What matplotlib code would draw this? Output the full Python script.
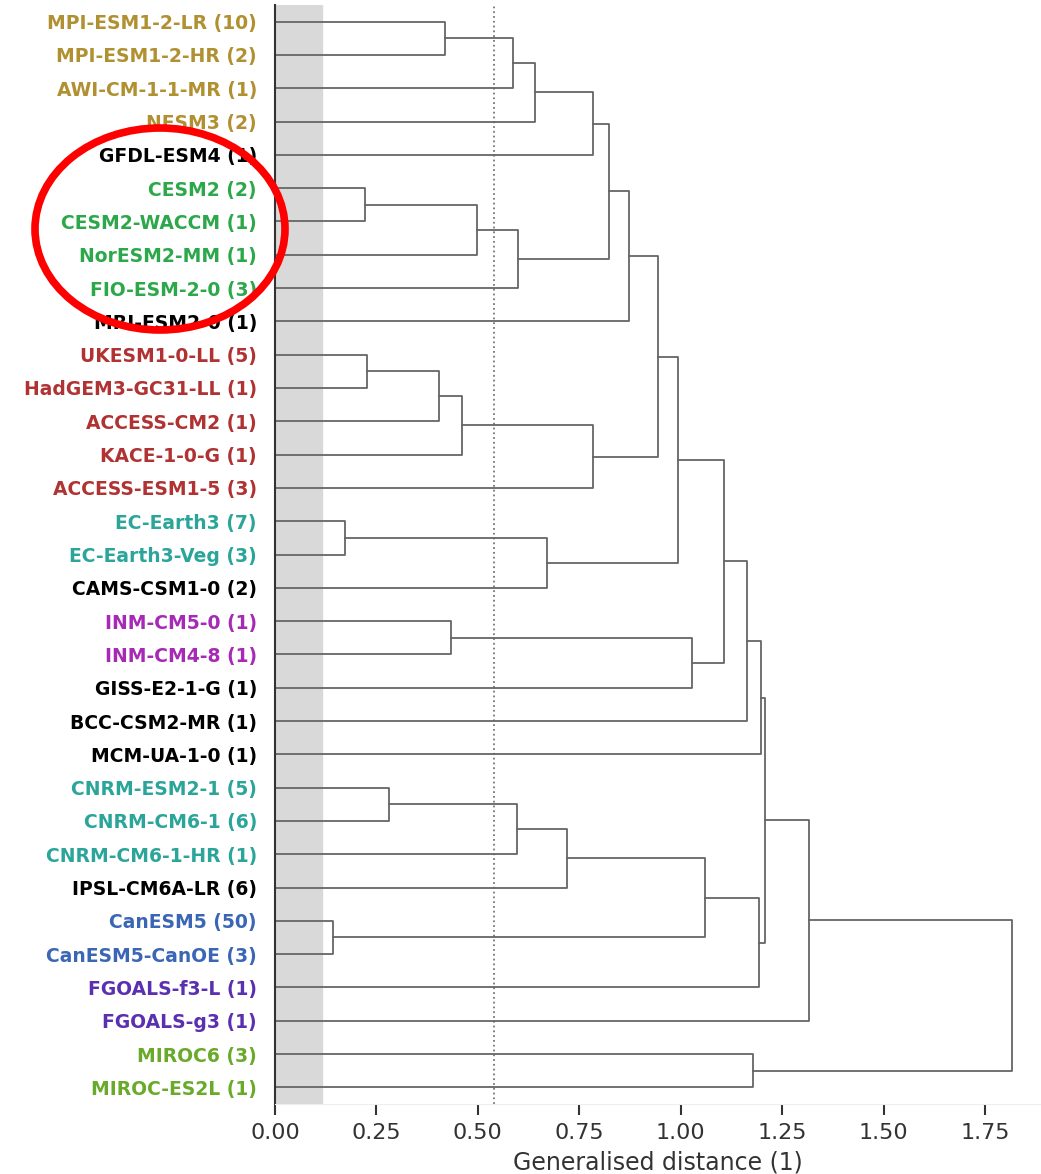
import matplotlib.pyplot as plt
from matplotlib.patches import Ellipse

# Modelli (foglie del dendrogramma, dall'alto in basso)
models = [
    "MPI-ESM1-2-LR (10)", "MPI-ESM1-2-HR (2)", "AWI-CM-1-1-MR (1)", "NESM3 (2)",
    "GFDL-ESM4 (1)", "CESM2 (2)", "CESM2-WACCM (1)", "NorESM2-MM (1)",
    "FIO-ESM-2-0 (3)", "MRI-ESM2-0 (1)", "UKESM1-0-LL (5)", "HadGEM3-GC31-LL (1)",
    "ACCESS-CM2 (1)", "KACE-1-0-G (1)", "ACCESS-ESM1-5 (3)", "EC-Earth3 (7)",
    "EC-Earth3-Veg (3)", "CAMS-CSM1-0 (2)", "INM-CM5-0 (1)", "INM-CM4-8 (1)",
    "GISS-E2-1-G (1)", "BCC-CSM2-MR (1)", "MCM-UA-1-0 (1)", "CNRM-ESM2-1 (5)",
    "CNRM-CM6-1 (6)", "CNRM-CM6-1-HR (1)", "IPSL-CM6A-LR (6)", "CanESM5 (50)",
    "CanESM5-CanOE (3)", "FGOALS-f3-L (1)", "FGOALS-g3 (1)", "MIROC6 (3)",
    "MIROC-ES2L (1)",
]

# Famiglia di ogni modello (per il colore dell'etichetta)
families = [
    "mpi", "mpi", "mpi", "mpi", "other", "ncar", "ncar", "ncar", "ncar", "other",
    "ukmo", "ukmo", "ukmo", "ukmo", "ukmo", "ecmwf", "ecmwf", "other", "inm", "inm",
    "other", "other", "other", "cnrm", "cnrm", "cnrm", "other", "cccma", "cccma",
    "fgoals", "fgoals", "miroc", "miroc",
]

family_colors = {
    "mpi": "#b09030", "other": "black", "ncar": "#2ca84a", "ukmo": "#b03232",
    "ecmwf": "#2ba59a", "inm": "#a62ab5", "cnrm": "#2ba59a", "cccma": "#3a66b5",
    "fgoals": "#5a2fb0", "miroc": "#6aaa2a",
}

# Fusioni: (cluster a, cluster b, distanza); i nuovi cluster partono da 33
merge_a = [0, 33, 34, 35, 5, 37, 38, 36, 40, 10, 42, 43, 44, 41, 15, 47, 46, 18,
           50, 49, 52, 53, 23, 55, 56, 27, 57, 59, 54, 61, 31, 62]
merge_b = [1, 2, 3, 4, 6, 7, 8, 39, 9, 11, 12, 13, 14, 45, 16, 17, 48, 19,
           20, 51, 21, 22, 24, 25, 26, 28, 58, 29, 60, 30, 32, 63]
merge_dist = [0.42, 0.587, 0.64, 0.784, 0.222, 0.497, 0.60, 0.823, 0.872,
              0.226, 0.404, 0.46, 0.784, 0.945, 0.173, 0.67, 0.993, 0.434,
              1.027, 1.107, 1.163, 1.198, 0.282, 0.597, 0.72, 0.143, 1.06,
              1.193, 1.207, 1.316, 1.178, 1.817]

threshold = 0.54
shade_max = 0.116

n = len(models)
fig = plt.figure(figsize=(10.41, 11.74), dpi=100)
ax = fig.add_axes([275 / 1041, 70 / 1174, 766 / 1041, 1099 / 1174])

# Posizione e altezza di ogni cluster
pos = {i: 5 + 10 * i for i in range(n)}
height = {i: 0.0 for i in range(n)}

ax.axvspan(0, shade_max, color="#d9d9d9", zorder=0)

for k, (a, b, d) in enumerate(zip(merge_a, merge_b, merge_dist)):
    new = n + k
    xs = [height[a], d, d, height[b]]
    ys = [pos[a], pos[a], pos[b], pos[b]]
    ax.plot(xs, ys, color="#666666", lw=1.3, zorder=2)
    pos[new] = (pos[a] + pos[b]) / 2
    height[new] = d

ax.axvline(threshold, color="#777777", ls=":", lw=1.3, zorder=1)

ax.set_ylim(10 * n, 0)
ax.set_xlim(0, 1.888)
ax.set_yticks([5 + 10 * i for i in range(n)])
ax.set_yticklabels(models, fontsize=13.5, fontweight="bold")
for lab, fam in zip(ax.get_yticklabels(), families):
    lab.set_color(family_colors[fam])
ax.tick_params(axis="y", length=0, pad=13)

ax.set_xticks([0, 0.25, 0.5, 0.75, 1.0, 1.25, 1.5, 1.75])
ax.set_xticklabels(["0.00", "0.25", "0.50", "0.75", "1.00", "1.25", "1.50", "1.75"])
ax.tick_params(axis="x", labelsize=16, length=8, width=1.5, color="#333333",
               labelcolor="#333333", pad=6)
ax.set_xlabel("Generalised distance (1)", fontsize=17, color="#333333", labelpad=5)

for side in ["top", "right"]:
    ax.spines[side].set_visible(False)
ax.spines["bottom"].set_color("#eeeeee")
ax.spines["left"].set_color("#333333")
ax.spines["left"].set_linewidth(1.5)

# Ellisse rossa di evidenziazione
ell = Ellipse((160 / 1041, 1 - 229 / 1174), 250 / 1041, 202 / 1174,
              transform=fig.transFigure, fill=False, edgecolor="red", lw=5.5)
fig.add_artist(ell)

plt.savefig("out.png", dpi=100)
